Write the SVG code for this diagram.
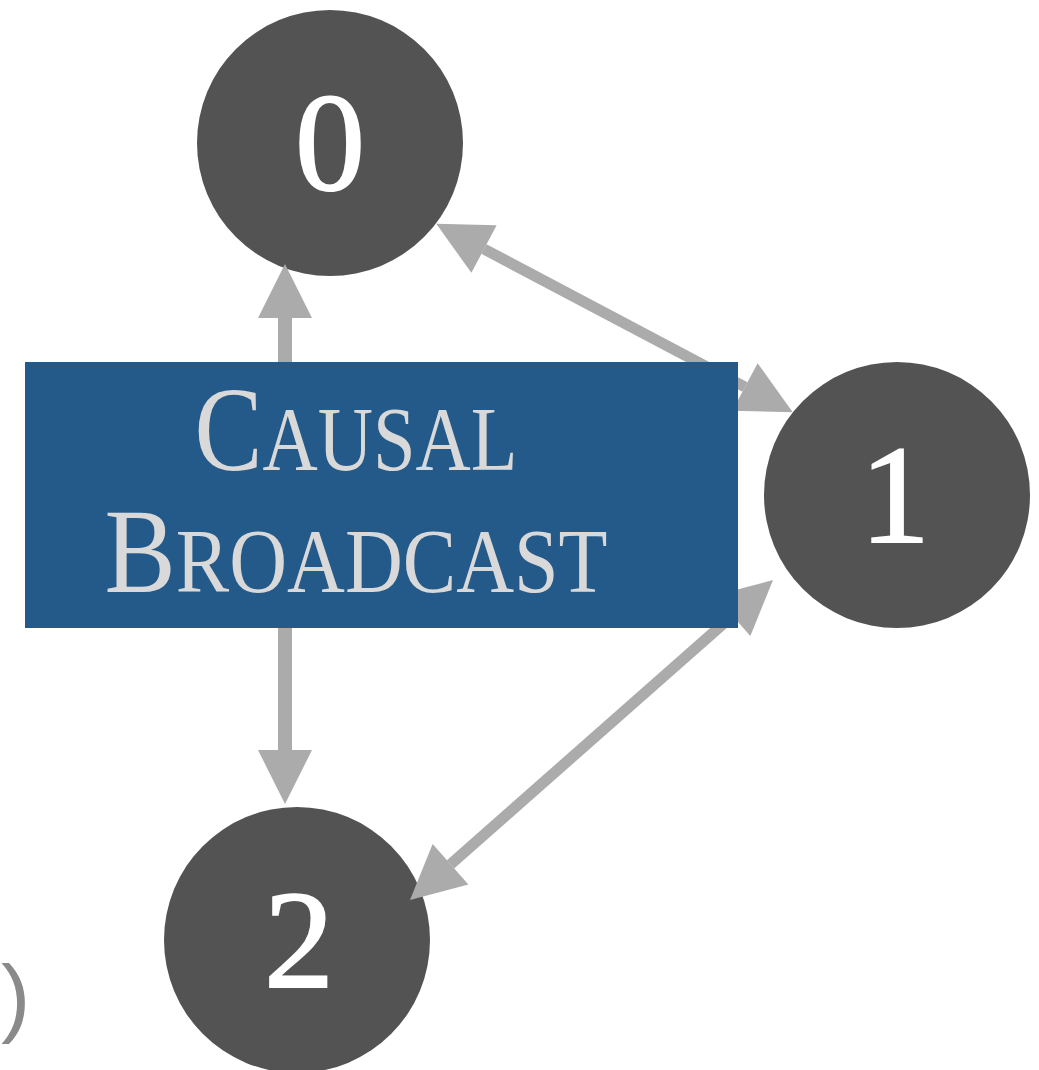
<svg xmlns="http://www.w3.org/2000/svg" width="1039" height="1070" viewBox="0 0 1039 1070">
  <style>
    .node circle { fill: #535353; }
    .node text { font-family: "Liberation Serif", serif; font-size: 140px; fill: #ffffff; text-anchor: middle; stroke: #ffffff; stroke-width: 2; }
    .edge { stroke: #ababab; fill: none; }
    .label { font-family: "Liberation Serif", serif; fill: #d9d9d9; text-anchor: middle; }
    .big { font-size: 120px; }
    .small { font-size: 90px; }
  </style>
  <defs>
    <marker id="head" viewBox="0 -27 54 54" refX="0" refY="0" markerWidth="54" markerHeight="54" markerUnits="userSpaceOnUse" orient="auto-start-reverse" overflow="visible">
      <path d="M0,-27 L54,0 L0,27 Z" fill="#ababab"/>
    </marker>
  </defs>

  <g id="node-0" class="node">
    <circle cx="330" cy="143" r="133"/>
    <text x="330" y="190">0</text>
  </g>
  <g id="node-1" class="node">
    <circle cx="897" cy="495" r="133"/>
    <text x="895" y="542">1</text>
  </g>
  <g id="node-2" class="node">
    <circle cx="297" cy="940" r="133"/>
    <text x="299" y="987">2</text>
  </g>

  <!-- connectors: over the nodes, under the broadcast box -->
  <g id="connectors">
    <line class="edge" x1="285" y1="420" x2="285" y2="318" stroke-width="14" marker-end="url(#head)"/>
    <line class="edge" x1="285" y1="580" x2="285" y2="750" stroke-width="14" marker-end="url(#head)"/>
    <line class="edge" x1="484" y1="249" x2="745" y2="387" stroke-width="11" marker-start="url(#head)" marker-end="url(#head)"/>
    <line class="edge" x1="450.5" y1="864.3" x2="732.5" y2="615.7" stroke-width="11" marker-start="url(#head)" marker-end="url(#head)"/>
  </g>

  <g id="causal-broadcast">
    <rect x="25" y="362" width="713" height="266" fill="#235a8a"/>
    <!-- small-caps title, narrowed to the box's type width -->
    <text class="label" transform="translate(356 470) scale(0.85 1)"><tspan class="big">C</tspan><tspan class="small">AUSAL</tspan></text>
    <text class="label" transform="translate(356 592) scale(0.89 1)"><tspan class="big">B</tspan><tspan class="small">ROADCAST</tspan></text>
  </g>

  <text x="1" y="1026" font-family="Liberation Sans, sans-serif" font-size="88" fill="#8a8a8a">)</text>
</svg>
